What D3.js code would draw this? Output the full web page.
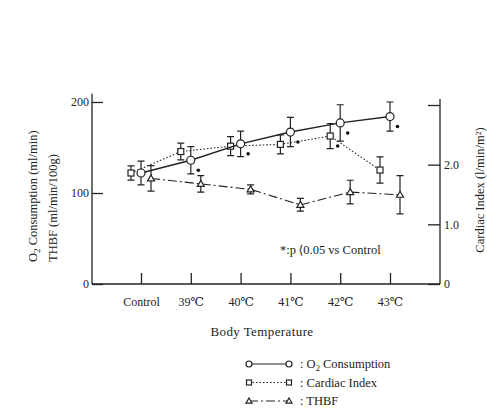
<!DOCTYPE html>
<meta charset="utf-8">
<head>
  <title>Body Temperature</title>
</head>
<body>
<style>
  html, body { margin: 0; padding: 0; background: #fff; }
  svg text { font-family: "Liberation Serif", "DejaVu Serif", serif; fill: #222; }
  .axis path { display: none; }
  .axis line { stroke: #222; stroke-width: 1.3px; }
  .axis text { font-size: 12px; }
</style>
<div class="chart"></div>
<script src="https://cdn.jsdelivr.net/npm/d3@7"></script>
<script>

var categories = ["Control", "39\u2103", "40\u2103", "41\u2103", "42\u2103", "43\u2103"];

var o2Mean = [122, 136, 154, 167, 177, 184],
    o2Err  = [13, 15, 14, 16, 20, 16];

var ciMean = [1.86, 2.22, 2.31, 2.34, 2.48, 1.91],
    ciErr  = [0.12, 0.14, 0.16, 0.16, 0.21, 0.22];

var thbfMean = [116, 110, 104, 87, 101, 98],
    thbfErr  = [14, 9, 5, 7, 13, 21];

var leftTicks = [0, 100, 200],
    rightTicks = [0, 1, 2, 3],
    rightTickLabels = ["0", "1.0", "2.0", ""];

// significance dots (p<0.05 vs control)
var sigMarks = [
  {series: "o2", cat: "39\u2103"},
  {series: "o2", cat: "40\u2103"},
  {series: "o2", cat: "41\u2103"},
  {series: "o2", cat: "42\u2103"},
  {series: "ci", cat: "42\u2103"},
  {series: "o2", cat: "43\u2103"}
];

var width = 487, height = 410;

var svg = d3.select(".chart").append("svg")
    .attr("width", width)
    .attr("height", height);

var x = d3.scalePoint().domain(categories).range([141, 390]);
var yL = d3.scaleLinear().domain([0, 200]).range([284, 102]);
var yR = d3.scaleLinear().domain([0, 3]).range([284, 105]);

var series = [
  {key: "ci", mean: ciMean, err: ciErr, y: yR, shift: -10, symbol: "square", dash: "1.5,2", label: ": Cardiac  Index"},
  {key: "o2", mean: o2Mean, err: o2Err, y: yL, shift: 0, symbol: "circle", dash: null, label: ": O"},
  {key: "thbf", mean: thbfMean, err: thbfErr, y: yL, shift: 10, symbol: "triangle", dash: "9,3,2,3", label: ": THBF"}
];

// axes
svg.append("g").attr("class", "axis")
    .attr("transform", "translate(0," + yL(0) + ")")
    .call(d3.axisBottom(x).tickSize(-11).tickPadding(13));

svg.append("g").attr("class", "axis")
    .attr("transform", "translate(92,0)")
    .call(d3.axisLeft(yL).tickValues(leftTicks).tickSize(-11).tickPadding(3));

svg.append("g").attr("class", "axis")
    .attr("transform", "translate(440,0)")
    .call(d3.axisRight(yR).tickValues(rightTicks).tickSize(-12).tickPadding(4)
      .tickFormat(function(d, i) { return rightTickLabels[i]; }));

svg.append("line").attr("x1", 92).attr("x2", 92)
    .attr("y1", yL(0)).attr("y2", yL(209))
    .attr("stroke", "#222").attr("stroke-width", 1.3);
svg.append("line").attr("x1", 440).attr("x2", 440)
    .attr("y1", yR(0)).attr("y2", yR(3.1))
    .attr("stroke", "#222").attr("stroke-width", 1.3);
svg.append("line").attr("x1", 92).attr("x2", 440)
    .attr("y1", yL(0)).attr("y2", yL(0))
    .attr("stroke", "#222").attr("stroke-width", 1.5);

// axis titles
svg.append("text")
    .attr("x", 262).attr("y", 336)
    .attr("text-anchor", "middle")
    .style("font-size", "13px")
    .style("letter-spacing", "0.4px")
    .text("Body  Temperature");

var yt = svg.append("text")
    .attr("transform", "translate(37,262) rotate(-90)")
    .attr("text-anchor", "start")
    .style("font-size", "12.5px");
yt.append("tspan").text("O");
yt.append("tspan").attr("dy", 3).style("font-size", "9px").text("2");
yt.append("tspan").attr("dy", -3).text(" Consumption (ml/min)");

svg.append("text")
    .attr("transform", "translate(57,262) rotate(-90)")
    .attr("text-anchor", "start")
    .style("font-size", "12.5px")
    .text("THBF (ml/min/100g)");

svg.append("text")
    .attr("transform", "translate(484,190) rotate(-90)")
    .attr("text-anchor", "middle")
    .style("font-size", "12.5px")
    .text("Cardiac Index (l/min/m\u00b2)");

// symbol drawing
function drawSymbol(g, type, cx, cy, r) {
  if (type === "circle") {
    g.append("circle").attr("cx", cx).attr("cy", cy).attr("r", r)
      .attr("fill", "#fff").attr("stroke", "#222").attr("stroke-width", 1.2);
  } else if (type === "square") {
    g.append("rect").attr("x", cx - r + 0.5).attr("y", cy - r + 0.5)
      .attr("width", 2 * r - 1).attr("height", 2 * r - 1)
      .attr("fill", "#fff").attr("stroke", "#222").attr("stroke-width", 1.2);
  } else {
    g.append("path")
      .attr("d", "M" + cx + "," + (cy - r) + "L" + (cx + r) + "," + (cy + r * 0.7) + "L" + (cx - r) + "," + (cy + r * 0.7) + "Z")
      .attr("fill", "#fff").attr("stroke", "#222").attr("stroke-width", 1.2);
  }
}

var plot = svg.append("g");

series.forEach(function(s) {
  var pts = categories.map(function(c, i) {
    return {x: x(c) + s.shift, y: s.y(s.mean[i]), lo: s.y(s.mean[i] - s.err[i]), hi: s.y(s.mean[i] + s.err[i])};
  });

  var line = d3.line().x(function(d) { return d.x; }).y(function(d) { return d.y; });
  plot.append("path")
      .datum(pts)
      .attr("d", line)
      .attr("fill", "none")
      .attr("stroke", "#222")
      .attr("stroke-width", s.dash ? 1.1 : 1.4)
      .attr("stroke-dasharray", s.dash);

  var eb = plot.append("g");
  pts.forEach(function(p) {
    eb.append("path")
      .attr("d", "M" + (p.x - 3.5) + "," + p.hi + "H" + (p.x + 3.5) +
                 "M" + p.x + "," + p.hi + "V" + p.lo +
                 "M" + (p.x - 3.5) + "," + p.lo + "H" + (p.x + 3.5))
      .attr("fill", "none").attr("stroke", "#222").attr("stroke-width", 1.2);
  });
  pts.forEach(function(p) {
    drawSymbol(plot, s.symbol, p.x, p.y, s.symbol === "circle" ? 4 : 3.5);
  });
});

// significance dots
sigMarks.forEach(function(m) {
  var s = series.find(function(d) { return d.key === m.series; });
  var i = categories.indexOf(m.cat);
  plot.append("circle")
      .attr("cx", x(m.cat) + s.shift + 7.5)
      .attr("cy", s.y(s.mean[i]) + 10)
      .attr("r", 1.8)
      .attr("fill", "#111");
});

// note
svg.append("text")
    .attr("x", 280).attr("y", 254)
    .style("font-size", "12.5px")
    .text("*:p\u2009\u27e80.05  vs  Control");

// legend
var legend = svg.append("g");
[series[1], series[0], series[2]].forEach(function(s, i) {
  var ly = 364 + i * 18.5;
  legend.append("line")
      .attr("x1", 249).attr("x2", 289).attr("y1", ly).attr("y2", ly)
      .attr("stroke", "#222").attr("stroke-width", 1)
      .attr("stroke-dasharray", s.dash);
  drawSymbol(legend, s.symbol, 249, ly, 3);
  drawSymbol(legend, s.symbol, 289, ly, 3);
  var t = legend.append("text").attr("x", 300).attr("y", ly + 4).style("font-size", "12.5px");
  t.append("tspan").text(s.label);
  if (s.key === "o2") {
    t.append("tspan").attr("dy", 3).style("font-size", "8.5px").text("2");
    t.append("tspan").attr("dy", -3).text(" Consumption");
  }
});

</script>
</body>
